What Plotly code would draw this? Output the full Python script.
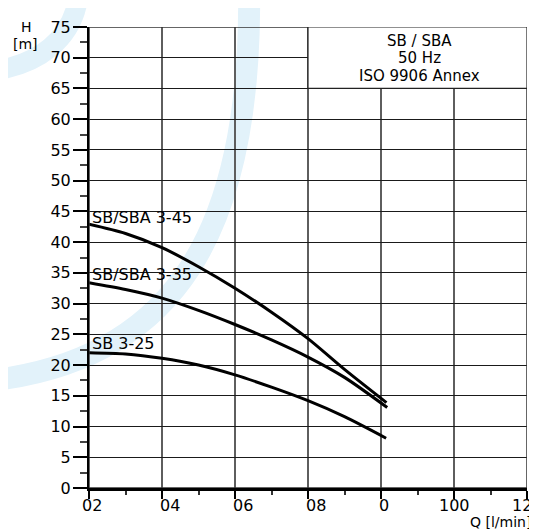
import plotly.graph_objects as go

# ---------------- data ----------------
Q_45 = [0, 10, 20, 30, 40, 50, 60, 70, 81.5]
H_45 = [42.9, 41.4, 39.1, 36.0, 32.5, 28.6, 24.3, 19.3, 13.9]
Q_35 = [0, 10, 20, 30, 40, 50, 60, 70, 81.7]
H_35 = [33.4, 32.3, 30.9, 28.9, 26.6, 24.1, 21.3, 18.0, 13.1]
Q_25 = [0, 10, 20, 30, 40, 50, 60, 70, 81.4]
H_25 = [22.0, 21.8, 21.1, 20.0, 18.4, 16.4, 14.2, 11.6, 8.1]
curve_names = ["SB/SBA 3-45", "SB/SBA 3-35", "SB 3-25"]
curve_label_H = [44.0, 34.8, 23.5]

x_tick_vals = [0, 20, 40, 60, 80, 100, 120]
x_tick_text = ["02", "04", "06", "08", "0", "100", "12"]
y_tick_vals = list(range(0, 80, 5))
info_lines = ["SB / SBA", "50 Hz", "ISO 9906 Annex"]
info_H = [72.7, 70.0, 67.1]

# ---------------- styling ----------------
FONT = "DejaVu Sans"
FS = 16
OFF = 8                      # page body margin of the browser
W, H = 537 - OFF, 531 - OFF  # figure size
ML, MR, MT, MB = 89 - OFF, 10, 19 - OFF, 42.5
PW, PH = W - ML - MR, H - MT - MB

def paper(wx, wy):
    """window pixel -> paper coords"""
    fx, fy = wx - OFF, wy - OFF
    return ((fx - ML) / PW, (H - MB - fy) / PH)

def bez(p0, p1, p2, p3):
    pts = [paper(*p) for p in (p0, p1, p2, p3)]
    return "M {:.4f},{:.4f} C {:.4f},{:.4f} {:.4f},{:.4f} {:.4f},{:.4f}".format(
        *[c for p in pts for c in p])

fig = go.Figure()
for q, h in [(Q_45, H_45), (Q_35, H_35), (Q_25, H_25)]:
    fig.add_trace(go.Scatter(x=q, y=h, mode="lines",
                             line=dict(color="black", width=3, shape="spline", smoothing=0.8),
                             showlegend=False, hoverinfo="skip"))

shapes = []
wm = "#e2f2fa"
shapes.append(dict(type="path", xref="paper", yref="paper", layer="below",
                   path=bez((249, -25), (253, 220), (180, 362), (-20, 380)),
                   line=dict(color=wm, width=22)))
shapes.append(dict(type="path", xref="paper", yref="paper", layer="below",
                   path=bez((78, -10), (72, 30), (40, 58), (-10, 64)),
                   line=dict(color=wm, width=20)))
shapes.append(dict(type="rect", xref="x", yref="y", x0=0, x1=120, y0=0, y1=75,
                   line=dict(color="#333333", width=1.5), layer="above"))
shapes.append(dict(type="rect", xref="x", yref="y", x0=60, x1=120, y0=65, y1=75,
                   fillcolor="white", line=dict(color="#222222", width=1.2), layer="above"))

ann = []
for name, yh in zip(curve_names, curve_label_H):
    ann.append(dict(x=0, y=yh, xref="x", yref="y", text=name, showarrow=False,
                    xanchor="left", yanchor="middle", xshift=2, borderpad=0,
                    font=dict(family=FONT, size=FS, color="black")))
for line, yh in zip(info_lines, info_H):
    ann.append(dict(x=90.5, y=yh, xref="x", yref="y", text=line, showarrow=False,
                    xanchor="center", yanchor="middle", borderpad=0,
                    font=dict(family=FONT, size=15, color="black")))
x_anchor = ["left", "left", "left", "left", "left", "center", "center"]
x_shift = [-8, -3, -3, -3, -3, 0, -5]
for v, t, a, s in zip(x_tick_vals, x_tick_text, x_anchor, x_shift):
    ann.append(dict(x=v, y=0, xref="x", yref="paper", text=t, showarrow=False,
                    xanchor=a, yanchor="middle", xshift=s, yshift=-17, borderpad=0,
                    font=dict(family=FONT, size=FS, color="black")))
hx, hy = paper(26.5, 19.5)
ann.append(dict(x=hx, y=hy, xref="paper", yref="paper", text="H", showarrow=False,
                xanchor="center", yanchor="middle", borderpad=0,
                font=dict(family=FONT, size=14, color="black")))
mx, my = paper(25.5, 36.5)
ann.append(dict(x=mx, y=my, xref="paper", yref="paper", text="[m]", showarrow=False,
                xanchor="center", yanchor="middle", borderpad=0,
                font=dict(family=FONT, size=14, color="black")))
qx, qy = paper(532, 523)
ann.append(dict(x=qx, y=qy, xref="paper", yref="paper", text="Q [l/min]", showarrow=False,
                xanchor="right", yanchor="middle", borderpad=0,
                font=dict(family=FONT, size=14, color="black")))

fig.update_layout(
    width=W, height=H, autosize=False,
    margin=dict(l=ML, r=MR, t=MT, b=MB, pad=0),
    paper_bgcolor="white", plot_bgcolor="rgba(0,0,0,0)",
    shapes=shapes, annotations=ann,
    xaxis=dict(range=[0, 120], tickvals=x_tick_vals, showticklabels=False,
               ticks="outside", ticklen=8, tickwidth=2, tickcolor="black",
               showline=True, linecolor="black", linewidth=2.5,
               showgrid=True, gridcolor="#5e5e5e", gridwidth=1.6, zeroline=False,
               minor=dict(dtick=10, ticks="outside", ticklen=4, tickwidth=1.5,
                          tickcolor="#333333", showgrid=False),
               fixedrange=True),
    yaxis=dict(range=[0, 75], tickvals=y_tick_vals,
               ticks="outside", ticklen=14, tickwidth=2, tickcolor="black",
               showline=True, linecolor="black", linewidth=2,
               showgrid=True, gridcolor="#1a1a1a", gridwidth=1, zeroline=False,
               tickfont=dict(family=FONT, size=FS, color="black"),
               ticklabelstandoff=-1,
               minor=dict(dtick=2.5, ticks="outside", ticklen=7, tickwidth=1.5,
                          tickcolor="#444444", showgrid=False),
               fixedrange=True),
)
fig.write_html("out.html")
